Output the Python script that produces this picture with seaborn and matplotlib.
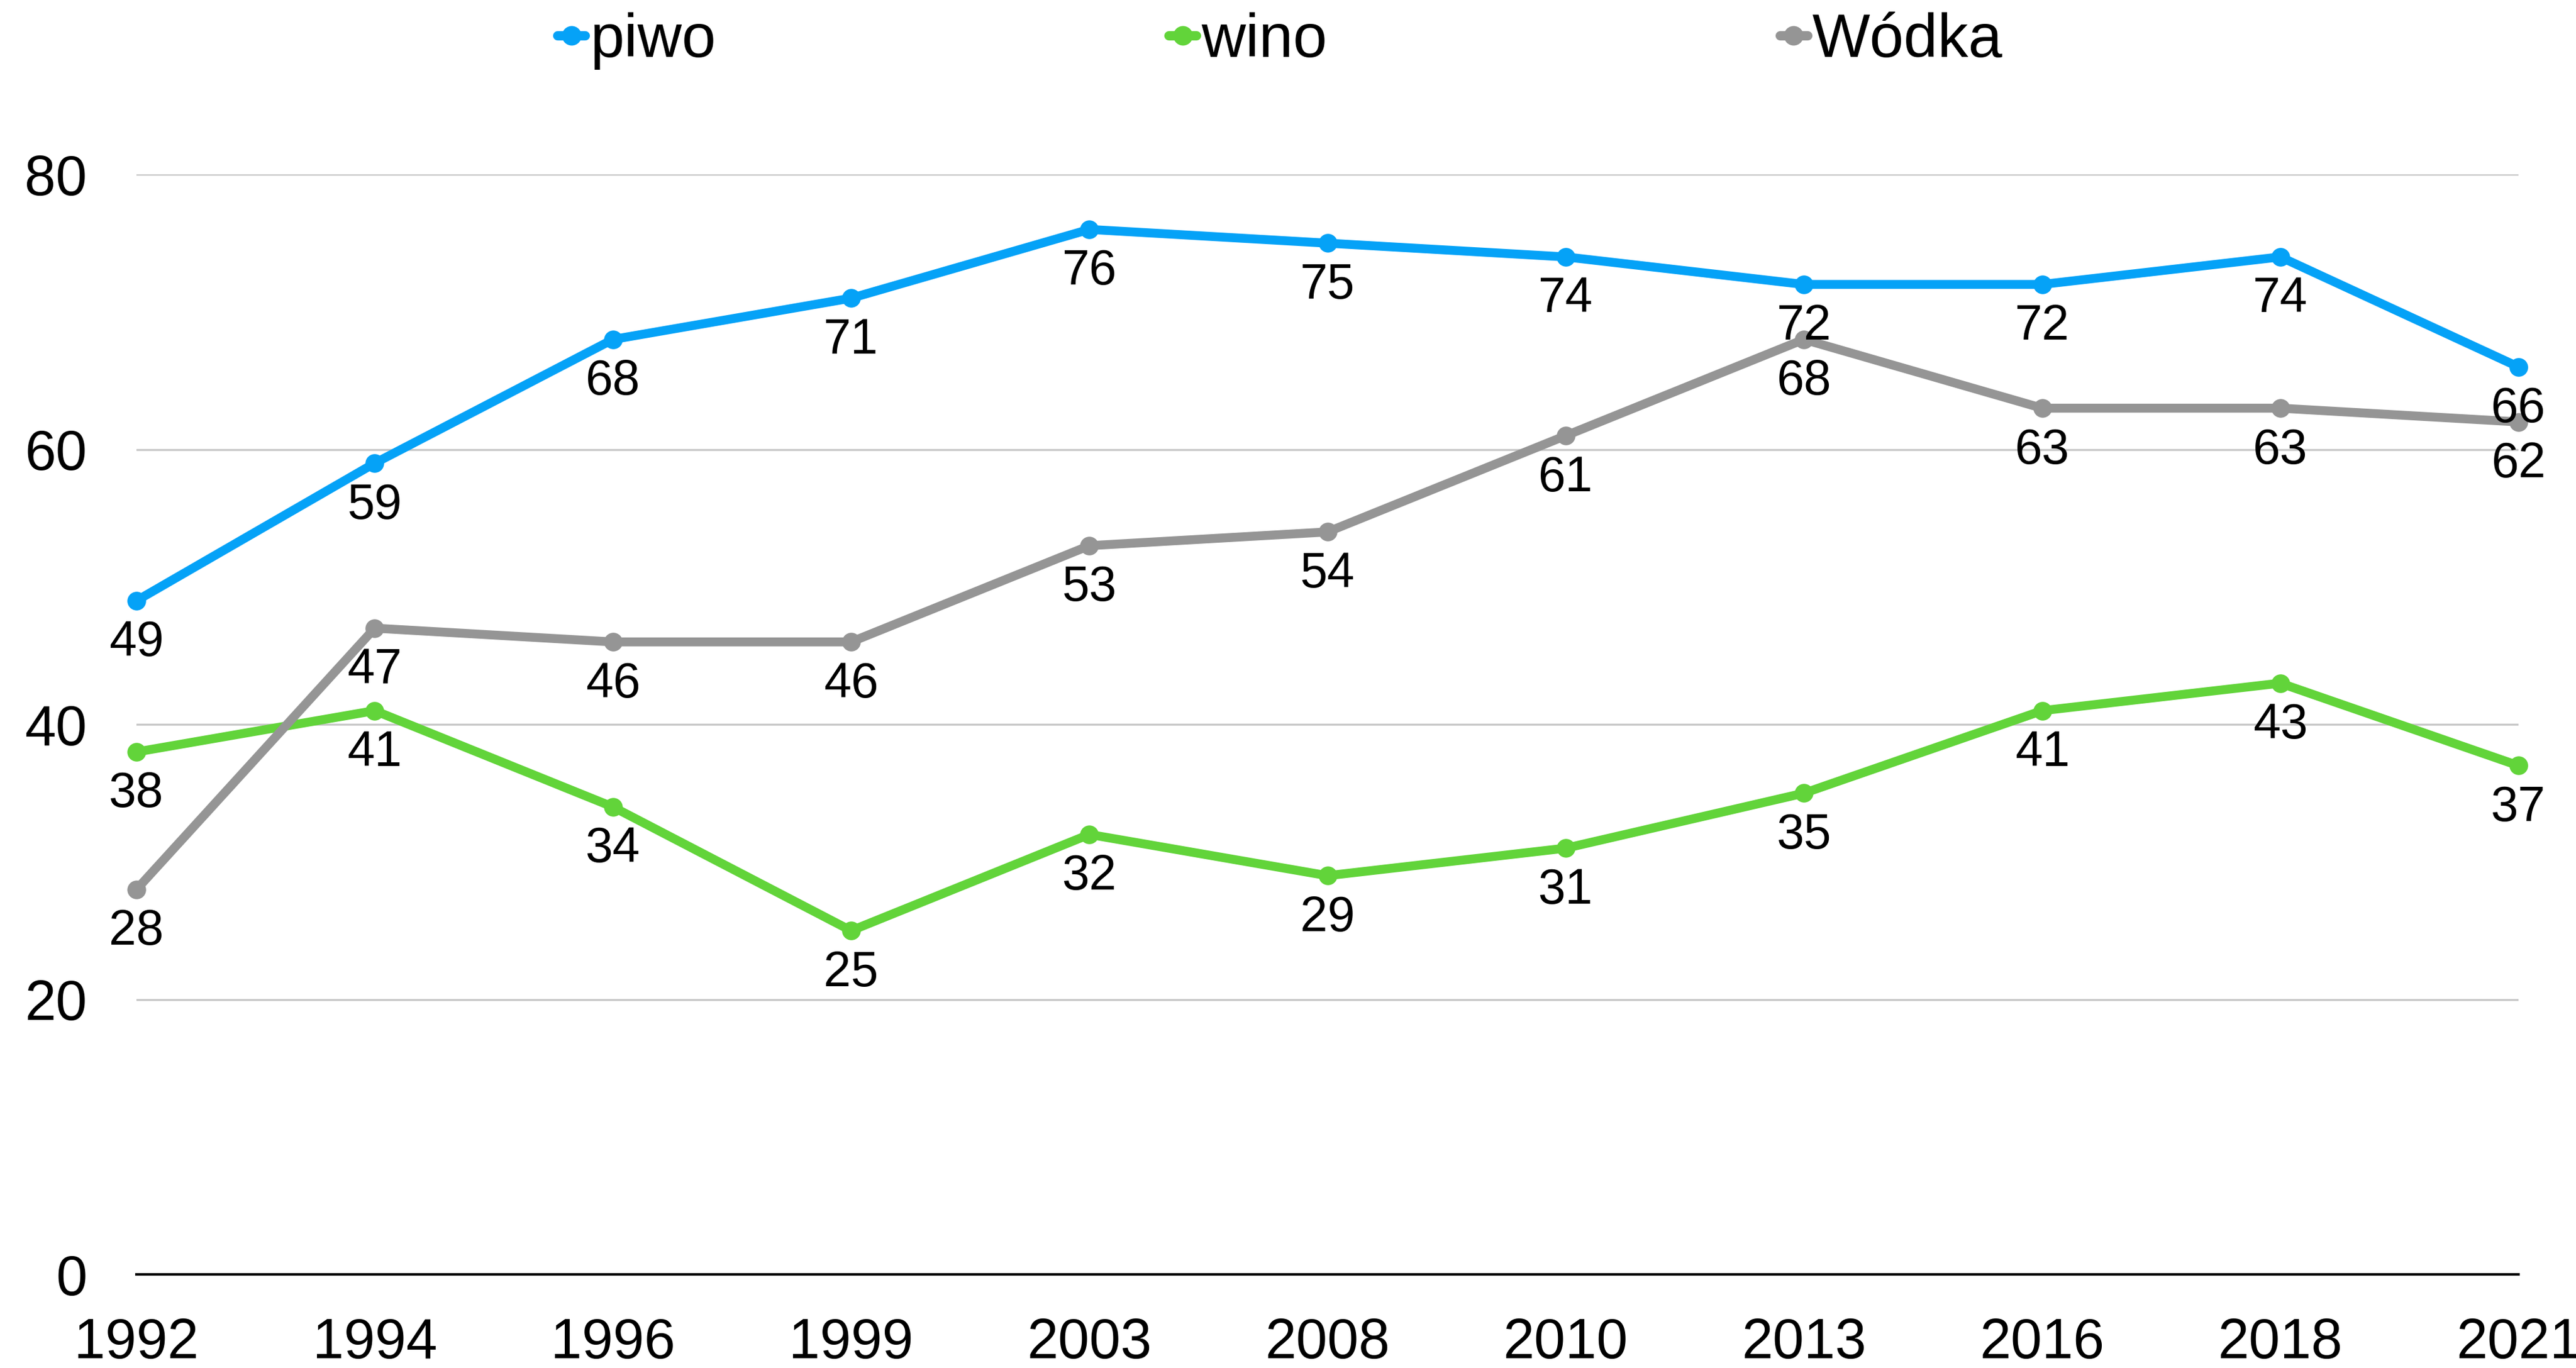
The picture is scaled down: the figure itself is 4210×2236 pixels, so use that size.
import matplotlib
matplotlib.use("Agg")
import matplotlib.pyplot as plt
import seaborn as sns
import pandas as pd

years = ["1992", "1994", "1996", "1999", "2003", "2008", "2010", "2013", "2016", "2018", "2021"]
piwo = [49, 59, 68, 71, 76, 75, 74, 72, 72, 74, 66]
wino = [38, 41, 34, 25, 32, 29, 31, 35, 41, 43, 37]
wodka = [28, 47, 46, 46, 53, 54, 61, 68, 63, 63, 62]
series_names = ["piwo", "wino", "Wódka"]
colors = ["#05A2F7", "#62D43A", "#959595"]
y_ticks = [0, 20, 40, 60, 80]

rows = []
for name, vals in zip(series_names, [piwo, wino, wodka]):
    for i, (yr, v) in enumerate(zip(years, vals)):
        rows.append({"pos": i, "year": yr, "value": v, "series": name})
df = pd.DataFrame(rows)

sns.set_theme(style="white")
plt.rcParams["font.family"] = ["Liberation Sans", "DejaVu Sans"]
plt.rcParams["text.color"] = "black"

fig = plt.figure(figsize=(42.10, 22.36), dpi=100)
ax = fig.add_axes([0.053, 0.0684, 0.9247, 0.8041])

sns.lineplot(data=df, x="pos", y="value", hue="series", hue_order=series_names,
             palette=colors, marker="o", markersize=22, markeredgewidth=0,
             linewidth=10.5, ax=ax, clip_on=False, zorder=3)

for name, vals in zip(series_names, [piwo, wino, wodka]):
    for i, v in enumerate(vals):
        ax.annotate(str(v), (i, v), xytext=(0, -50), textcoords="offset points",
                    ha="center", va="center", fontsize=58, color="black",
                    annotation_clip=False, zorder=5)

ax.set_xlim(0, len(years) - 1)
ax.set_ylim(0, 80)
ax.set_xticks(range(len(years)))
ax.set_xticklabels(years)
ax.set_yticks(y_ticks)
ax.set_yticklabels([str(t) for t in y_ticks])
ax.tick_params(axis="x", labelsize=66, pad=50, length=0, labelcolor="black")
ax.tick_params(axis="y", labelsize=66, pad=58, length=0, labelcolor="black")
ax.set_xlabel("")
ax.set_ylabel("")

for t in y_ticks[1:]:
    ax.axhline(t, color="#c8c8c8", linewidth=2.4, zorder=1)
for s in ["top", "right", "left"]:
    ax.spines[s].set_visible(False)
ax.spines["bottom"].set_color("black")
ax.spines["bottom"].set_linewidth(3)
ax.spines["bottom"].set_zorder(2)

handles, labels = ax.get_legend_handles_labels()
ax.get_legend().remove()
leg = fig.legend(handles, labels, loc="center", bbox_to_anchor=(0.497, 0.97), ncol=3,
                 frameon=False, fontsize=72, handlelength=0.45, handletextpad=0.08,
                 columnspacing=7.4, markerscale=1.0, labelcolor="black")
for h in leg.legend_handles:
    h.set_linewidth(11)
    h.set_markersize(23)

fig.savefig("out.png", dpi=100, facecolor="white")
